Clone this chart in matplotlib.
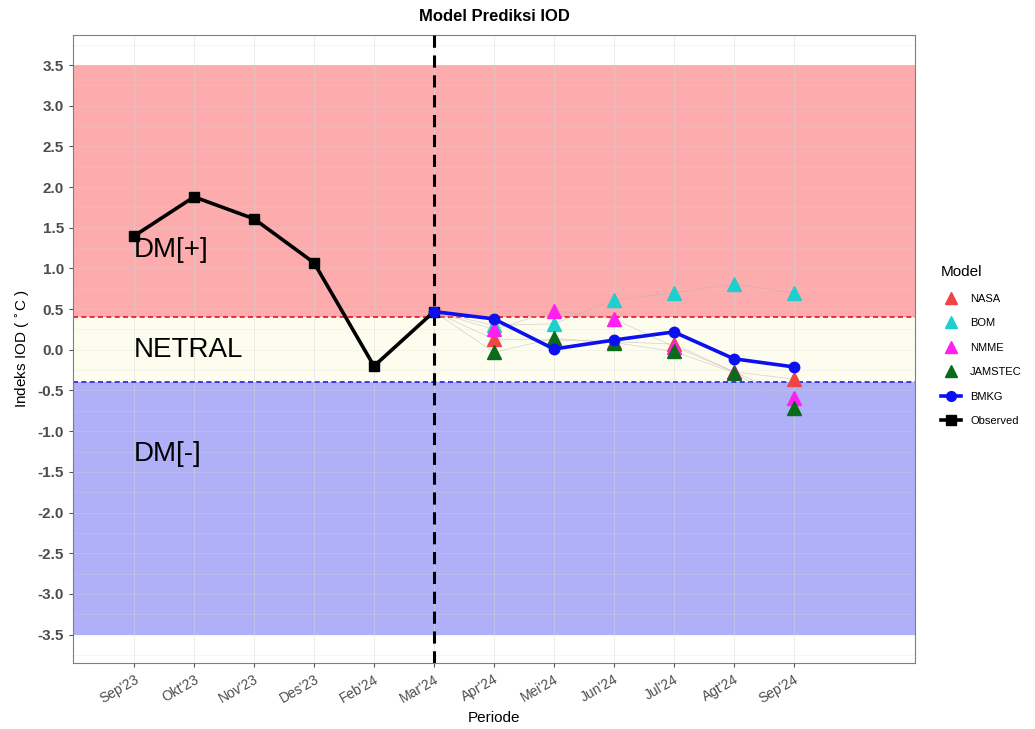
import numpy as np
import matplotlib.pyplot as plt
from matplotlib.lines import Line2D

plt.rcParams['font.family'] = ['Liberation Sans', 'DejaVu Sans']

# periods on the x axis
periods = ["Sep'23", "Okt'23", "Nov'23", "Des'23", "Feb'24", "Mar'24",
           "Apr'24", "Mei'24", "Jun'24", "Jul'24", "Agt'24", "Sep'24"]

# observed IOD (Sep'23 .. Mar'24)
obs_periods = periods[:6]
observed = [1.40, 1.88, 1.61, 1.07, -0.20, 0.47]

# forecasts (Mar'24 .. Sep'24), first value = last observation
fc_periods = periods[5:]
nasa = [0.47, 0.13, 0.12, 0.10, 0.07, -0.27, -0.36]
bom = [0.47, 0.30, 0.32, 0.61, 0.70, 0.81, 0.70]
nmme = [0.47, 0.25, 0.48, 0.38, 0.04, -0.27, -0.59]
jamstec = [0.47, -0.03, 0.14, 0.09, -0.02, -0.28, -0.72]
bmkg = [0.47, 0.38, 0.01, 0.12, 0.22, -0.11, -0.21]

models = ["NASA", "BOM", "NMME", "JAMSTEC"]
model_values = [nasa, bom, nmme, jamstec]
model_colors = ["#F04545", "#1FCFCF", "#FF1FEF", "#0B6B1A"]

# thresholds for the IOD phases
dm_pos = 0.4
dm_neg = -0.4
band_lim = 3.5

xpos = {p: i + 1 for i, p in enumerate(periods)}

fig = plt.figure(figsize=(10.35, 7.29), dpi=100)
ax = fig.add_axes([0.0705, 0.0905, 0.8135, 0.8615])

# phase bands
ax.axhspan(dm_pos, band_lim, color="#FCACAC", zorder=0, lw=0)
ax.axhspan(dm_neg, dm_pos, color="#FDFDEF", zorder=0, lw=0)
ax.axhspan(-band_lim, dm_neg, color="#B0B0F9", zorder=0, lw=0)
ax.axhline(dm_pos, color="#E8101A", ls=(0, (3, 2)), lw=1.2, zorder=1)
ax.axhline(dm_neg, color="#2020E0", ls=(0, (3, 2)), lw=1.2, zorder=1)

# grid (ggplot theme_bw like), faint over the bands
for y in np.arange(-3.75, 3.76, 0.25):
    ax.axhline(y, color="#D8D8D8", lw=0.5, alpha=0.35, zorder=0.5)
for i in range(1, len(periods) + 1):
    ax.axvline(i, color="#D8D8D8", lw=0.7, alpha=0.45, zorder=0.5)

# phase labels
ax.text(1, 1.23, "DM[+]", fontsize=20, ha="left", va="center", zorder=3)
ax.text(1, 0.0, "NETRAL", fontsize=20, ha="left", va="center", zorder=3)
ax.text(1, -1.28, "DM[-]", fontsize=20, ha="left", va="center", zorder=3)

# vertical line at the last observation
ax.axvline(xpos["Mar'24"], color="black", ls=(0, (4, 2.5)), lw=2.2, zorder=4)

fx = [xpos[p] for p in fc_periods]
for name, vals, col in zip(models, model_values, model_colors):
    ax.plot(fx, vals, color="#BFB0B0", lw=0.6, alpha=0.5, zorder=2)
for name, vals, col in zip(models, model_values, model_colors):
    ax.plot(fx[1:], vals[1:], ls="none", marker="^", ms=9.5, color=col,
            zorder=5)

ax.plot([xpos[p] for p in obs_periods], observed, color="black", lw=2.6,
        marker="s", ms=7, zorder=6)
ax.plot(fx, bmkg, color="#0A10F0", lw=2.6, marker="o", ms=7.5, zorder=7)

ax.set_xlim(-0.02, 14.02)
ax.set_ylim(-3.85, 3.87)
ax.set_xticks(range(1, len(periods) + 1))
ax.set_xticklabels(periods, rotation=30, ha="right", rotation_mode="anchor",
                   fontsize=10, color="#4D4D4D")
ax.set_yticks(np.arange(-3.5, 3.51, 0.5))
ax.set_yticklabels([f"{v:.1f}" for v in np.arange(-3.5, 3.51, 0.5)],
                   fontsize=11, fontweight="bold", color="#4D4D4D")
ax.tick_params(length=3, color="#555555")
for s in ax.spines.values():
    s.set_color("#7F7F7F")
    s.set_linewidth(0.8)

ax.set_xlabel("Periode", fontsize=11)
ax.set_ylabel("Indeks IOD ( $^{\\circ}$C )", fontsize=11)
ax.set_title("Model Prediksi IOD", fontsize=12, fontweight="bold", pad=10)

handles = [Line2D([], [], ls="none", marker="^", ms=9, color=c)
           for c in model_colors]
handles.append(Line2D([], [], color="#0A10F0", lw=2.6, marker="o", ms=7))
handles.append(Line2D([], [], color="black", lw=2.6, marker="s", ms=7))
labels = models + ["BMKG", "Observed"]
leg = fig.legend(handles, labels, title="Model", loc="upper left",
                 bbox_to_anchor=(0.905, 0.642), frameon=False, fontsize=8,
                 title_fontsize=11, handlelength=1.8, labelspacing=1.3,
                 handletextpad=0.8, borderaxespad=0)
leg._legend_box.align = "left"

fig.savefig("out.png", dpi=100)
